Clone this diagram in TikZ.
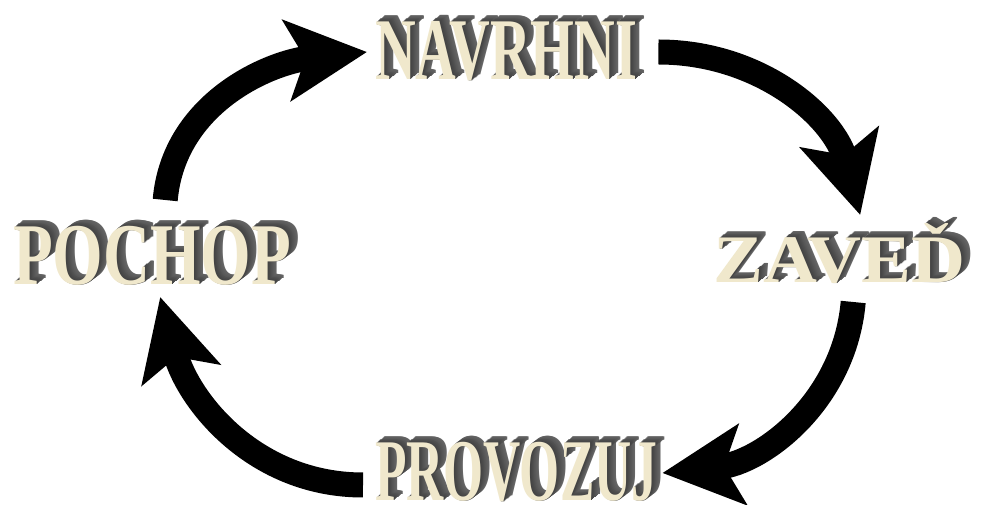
\documentclass[tikz,border=0pt]{standalone}
\usepackage{fontspec}
\setmainfont{Liberation Serif}
\usetikzlibrary{arrows.meta,calc}

\definecolor{facecream}{RGB}{240,232,204}
\definecolor{sidegray}{RGB}{62,62,62}
\definecolor{edgegray}{RGB}{175,175,175}

\tikzset{
  cyclearrow/.style={line width=25pt, -{Stealth[length=80pt,width=80pt,inset=18pt]}},
  wordside/.style={inner sep=0pt, anchor=base west},
  wordface/.style={inner sep=0pt, anchor=base west, text=facecream},
}

% raised word: name, base west, width, font size, text
\newcommand\deepword[5]{%
  \foreach \i in {9,...,1}{
    \pgfmathtruncatemacro\mix{4*\i}
    \node[wordside, text=edgegray!\mix!sidegray] (#1-\i) at ($(#2)+(\i,0.75*\i)$)
      {\fontsize{#4}{#4}\selectfont\bfseries\resizebox{#3}{\height}{#5}};
  }
  \node[wordface] (#1) at (#2)
    {\fontsize{#4}{#4}\selectfont\bfseries\resizebox{#3}{\height}{#5}};
}

\begin{document}
\begin{tikzpicture}[x=1pt, y=1pt]
  \useasboundingbox (0,0) rectangle (982,505);

  % the four steps
  \deepword{pochop}{13,220}{278pt}{88}{POCHOP}
  \deepword{navrhni}{375,425}{262pt}{88}{NAVRHNI}
  \deepword{zaved}{713,222}{252pt}{68}{ZAVEĎ}
  \deepword{provozuj}{375,4}{282pt}{88}{PROVOZUJ}

  % the cycle
  \draw[cyclearrow] ([xshift=13pt,yshift=85pt]pochop.base)
    to[out=85, in=186] ([xshift=-8pt,yshift=28pt]navrhni.base west);
  \draw[cyclearrow] ([xshift=21pt,yshift=28pt]navrhni.base east)
    to[out=0, in=105] ([xshift=21pt,yshift=68pt]zaved.base);
  \draw[cyclearrow] ([xshift=14pt,yshift=-19pt]zaved.base)
    to[out=265, in=6] ([xshift=5pt,yshift=28pt]provozuj.base east);
  \draw[cyclearrow] ([xshift=-12pt,yshift=16pt]provozuj.base west)
    to[out=180, in=285] ([xshift=8pt,yshift=-12pt]pochop.base);
\end{tikzpicture}
\end{document}
